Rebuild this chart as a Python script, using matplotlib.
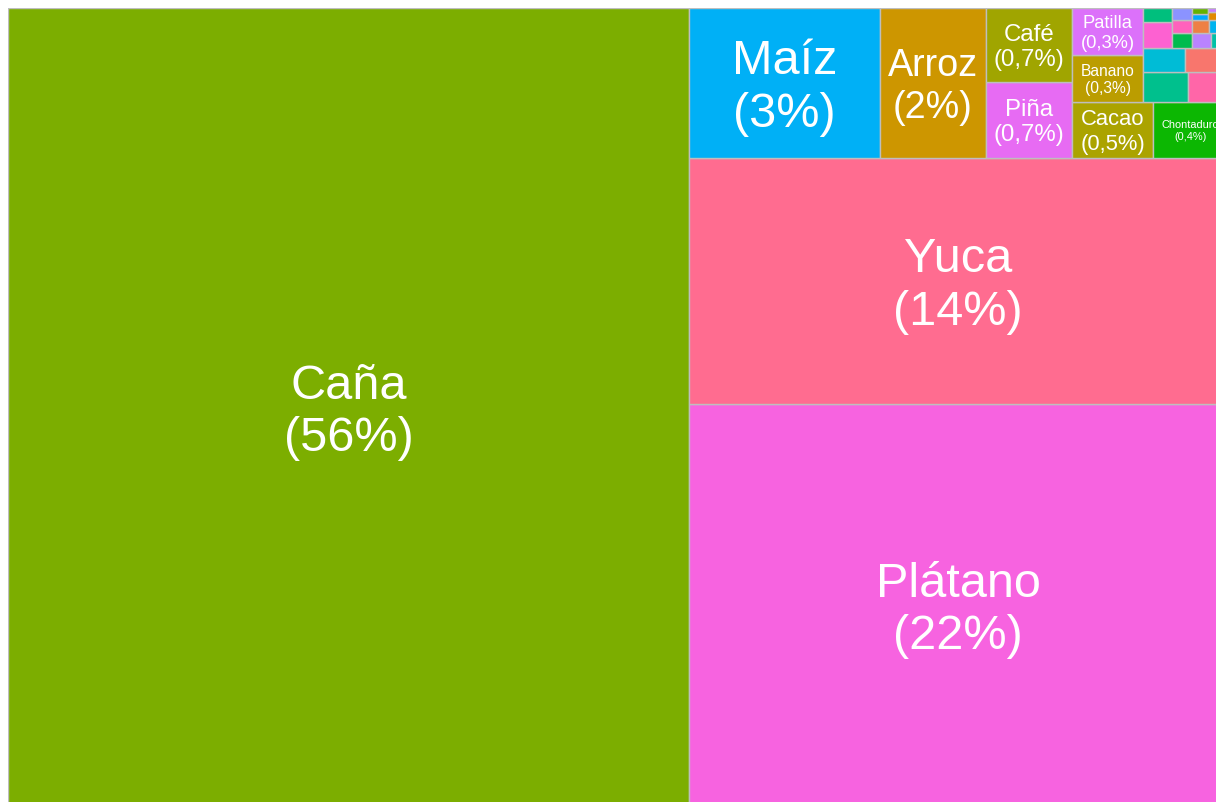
import matplotlib
matplotlib.use("Agg")
import matplotlib.pyplot as plt
from matplotlib.patches import Rectangle

# Share of cultivated area per crop (%)
crops = ["Caña", "Plátano", "Yuca", "Maíz", "Arroz", "Piña", "Café",
         "Cacao", "Chontaduro", "Banano", "Patilla",
         "Aguacate", "Naranja", "Frijol", "Papaya", "Mango", "Limón",
         "Guanábana", "Maracuyá", "Tomate", "Ají", "Ñame", "Lulo",
         "Guayaba", "Mora", "Papa", "Arracacha", "Cebolla", "Ahuyama"]
shares = [55.91, 22.22, 13.61, 2.93, 1.63, 0.67, 0.66,
          0.462, 0.421, 0.340, 0.338,
          0.139, 0.122, 0.1025, 0.102, 0.0805, 0.042,
          0.0328, 0.0304, 0.0262, 0.0250, 0.0248, 0.0221,
          0.0220, 0.0111, 0.0097, 0.0086, 0.0080, 0.0070]

colors = {
    "Caña": "#7CAE00", "Plátano": "#F763E0", "Yuca": "#FF6C90",
    "Maíz": "#00B0F6", "Arroz": "#CD9600", "Piña": "#E76BF3",
    "Café": "#A0A500", "Cacao": "#ABA300", "Chontaduro": "#0CB702",
    "Banano": "#BB9D00", "Patilla": "#DC71FA",
    "Aguacate": "#00C08D", "Naranja": "#FF66A8", "Frijol": "#00BCD6",
    "Papaya": "#F8766D", "Mango": "#FD61D1", "Limón": "#00BF7D",
    "Guanábana": "#00BB4E", "Maracuyá": "#B983FF", "Tomate": "#00C1A7",
    "Ají": "#FF62BC", "Ñame": "#8B93FF", "Lulo": "#EE8044",
    "Guayaba": "#00B4EF", "Mora": "#00A9FF", "Papa": "#64B200",
    "Arracacha": "#E18A00", "Cebolla": "#35A2FF", "Ahuyama": "#C77CFF",
}


def worst(row, side):
    s = sum(row)
    return max(max(side * side * r / (s * s), (s * s) / (side * side * r)) for r in row)


def squarify(values, x, y, w, h):
    # squarified layout in the unit square, first strip at left / bottom
    rects = []
    i = 0
    while i < len(values):
        side = min(w, h)
        row = [values[i]]
        j = i + 1
        while j < len(values) and worst(row + [values[j]], side) <= worst(row, side):
            row.append(values[j])
            j += 1
        s = sum(row)
        if w >= h:
            cw = s / h
            yy = y
            for v in row:
                rects.append((x, yy, cw, v / cw))
                yy += v / cw
            x += cw
            w -= cw
        else:
            rh = s / w
            xx = x
            for v in row:
                rects.append((xx, y, v / rh, rh))
                xx += v / rh
            y += rh
            h -= rh
        i = j
    return rects


def pct_label(p):
    if p >= 1:
        return f"{p:.0f}%"
    return f"{p:.1f}%".replace(".", ",")


order = sorted(range(len(shares)), key=lambda k: -shares[k])
total = sum(shares)
areas = [shares[k] / total for k in order]
rects = squarify(areas, 0.0, 0.0, 1.0, 1.0)

fig = plt.figure(figsize=(12.16, 8.02), dpi=100)
AX_W, AX_H = 1219, 799
ax = fig.add_axes([8 / 1216, -5 / 802, AX_W / 1216, AX_H / 802])
ax.set_xlim(0, 1)
ax.set_ylim(0, 1)
ax.axis("off")

renderer = fig.canvas.get_renderer()
MAX_PT = 35.0
for k, (x, y, w, h) in zip(order, rects):
    name = crops[k]
    ax.add_patch(Rectangle((x, y), w, h, facecolor=colors[name],
                           edgecolor="#BEBEBE", linewidth=1.0))
    label = f"{name}\n({pct_label(shares[k] / total * 100)})"
    t = ax.text(x + w / 2, y + h / 2, label, ha="center", va="center",
                color="white", fontsize=MAX_PT, family="Liberation Sans",
                linespacing=1.22)
    bb = t.get_window_extent(renderer)
    wpx, hpx = w * AX_W, h * AX_H
    scale = min(1.0, (wpx - 16) / bb.width, (hpx - 2) / bb.height)
    size = MAX_PT * scale
    if size < 7.6:
        t.remove()
    else:
        t.set_fontsize(size)
        # nudge down a little, the block sits slightly low in the original
        size_px = size * 100 / 72
        t.set_y(y + h / 2 - 0.1 * size_px / AX_H)

fig.savefig("out.png", dpi=100)
